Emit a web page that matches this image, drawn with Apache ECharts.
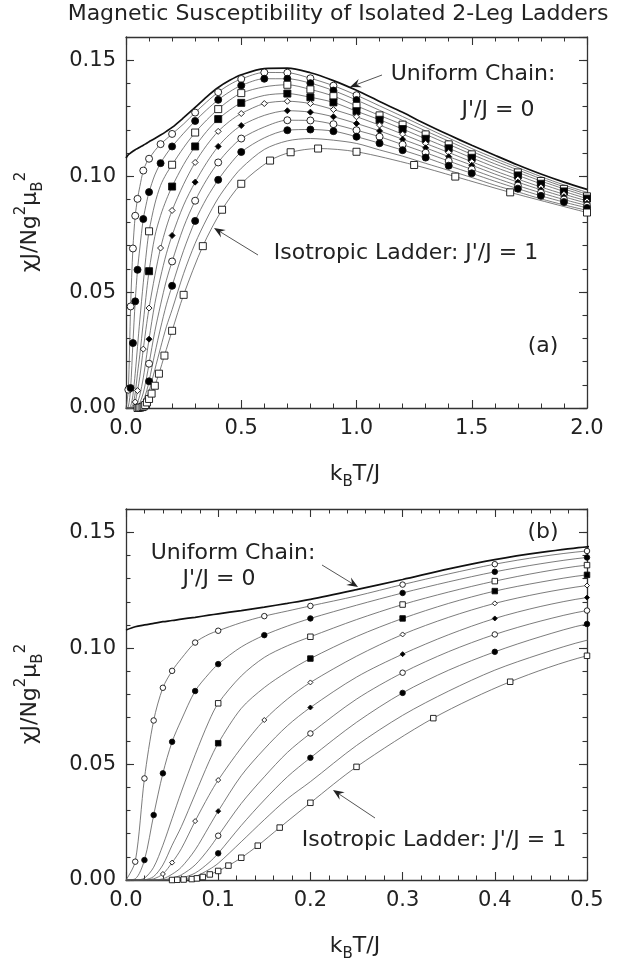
<!DOCTYPE html>
<html><head><meta charset="utf-8">
<script src="https://cdn.jsdelivr.net/npm/echarts@6/dist/echarts.min.js"></script>
<style>html,body{margin:0;padding:0;background:#fff}#c{width:626px;height:969px}</style>
</head><body><div id="c"></div>
<script>
// ---------- DATA ----------
// shared temperature grid kT/J for chain and J'/J = 0.1 ... 0.9
const tempGrid = [0, 0.01, 0.02, 0.03, 0.04, 0.05, 0.06, 0.075, 0.09, 0.1,
  0.125, 0.15, 0.175, 0.2, 0.25, 0.3, 0.35, 0.4, 0.45, 0.5,
  0.6, 0.7, 0.8, 0.9, 1.0, 1.1, 1.2, 1.3, 1.4, 1.5, 1.6, 1.7, 1.8, 1.9, 2.0];
const chainJ0 = [0.1078, 0.1092, 0.1100, 0.1107, 0.1114, 0.1119, 0.1125, 0.1133, 0.1142, 0.1148,
  0.1162, 0.1177, 0.1193, 0.1210, 0.1252, 0.1296, 0.1342, 0.1382, 0.1413, 0.1437,
  0.1464, 0.1466, 0.1446, 0.1412, 0.1370, 0.1322, 0.1275, 0.1225, 0.1178, 0.1133, 0.1090, 0.1048, 0.1009, 0.0974, 0.0943];
const ladder01 = [0, 0.0079, 0.0438, 0.0688, 0.0829, 0.0902, 0.0955, 0.1024, 0.1060, 0.1075,
  0.1110, 0.1138, 0.1160, 0.1182, 0.1225, 0.1274, 0.1320, 0.1362, 0.1395, 0.1419,
  0.1447, 0.1446, 0.1422, 0.1390, 0.1349, 0.1303, 0.1257, 0.1210, 0.1164, 0.1119, 0.1077, 0.1037, 0.0998, 0.0962, 0.0930];
const ladder02 = [0, 0.0005, 0.0086, 0.0280, 0.0460, 0.0596, 0.0690, 0.0815, 0.0890, 0.0931,
  0.1005, 0.1056, 0.1095, 0.1128, 0.1185, 0.1238, 0.1286, 0.1329, 0.1364, 0.1391,
  0.1420, 0.1420, 0.1401, 0.1369, 0.1328, 0.1284, 0.1240, 0.1195, 0.1151, 0.1107, 0.1066, 0.1027, 0.0989, 0.0954, 0.0922];
const ladder03 = [0, 0, 0.0008, 0.0055, 0.0150, 0.0265, 0.0380, 0.0540, 0.0685, 0.0762,
  0.0880, 0.0960, 0.1010, 0.1049, 0.1123, 0.1188, 0.1242, 0.1289, 0.1328, 0.1358,
  0.1385, 0.1394, 0.1374, 0.1345, 0.1303, 0.1262, 0.1222, 0.1180, 0.1137, 0.1094, 0.1053, 0.1016, 0.0979, 0.0945, 0.0913];
const ladder04 = [0, 0, 0.0001, 0.0015, 0.0065, 0.0150, 0.0230, 0.0370, 0.0510, 0.0590,
  0.0740, 0.0830, 0.0898, 0.0955, 0.1050, 0.1128, 0.1193, 0.1246, 0.1285, 0.1316,
  0.1348, 0.1356, 0.1340, 0.1318, 0.1280, 0.1243, 0.1203, 0.1161, 0.1120, 0.1079, 0.1039, 0.1003, 0.0967, 0.0934, 0.0903];
const ladder05 = [0, 0, 0, 0.0005, 0.0026, 0.0075, 0.0135, 0.0254, 0.0365, 0.0431,
  0.0570, 0.0690, 0.0780, 0.0852, 0.0965, 0.1059, 0.1133, 0.1193, 0.1237, 0.1270,
  0.1313, 0.1323, 0.1313, 0.1287, 0.1256, 0.1220, 0.1181, 0.1141, 0.1102, 0.1062, 0.1023, 0.0987, 0.0953, 0.0922, 0.0893];
const ladder06 = [0, 0, 0, 0, 0.0005, 0.0025, 0.0055, 0.0130, 0.0230, 0.0297,
  0.0450, 0.0565, 0.0665, 0.0744, 0.0875, 0.0974, 0.1058, 0.1128, 0.1180, 0.1218,
  0.1262, 0.1282, 0.1276, 0.1256, 0.1227, 0.1195, 0.1159, 0.1122, 0.1084, 0.1047, 0.1009, 0.0974, 0.0941, 0.0911, 0.0883];
const ladder07 = [0, 0, 0, 0, 0.0001, 0.0008, 0.0022, 0.0065, 0.0135, 0.0191,
  0.0330, 0.0445, 0.0550, 0.0632, 0.0780, 0.0894, 0.0985, 0.1059, 0.1117, 0.1162,
  0.1212, 0.1241, 0.1240, 0.1224, 0.1198, 0.1170, 0.1136, 0.1101, 0.1065, 0.1029, 0.0993, 0.0959, 0.0928, 0.0899, 0.0873];
const ladder08 = [0, 0, 0, 0, 0, 0.0002, 0.0008, 0.0030, 0.0075, 0.0115,
  0.0235, 0.0345, 0.0445, 0.0527, 0.0680, 0.0807, 0.0905, 0.0984, 0.1050, 0.1104,
  0.1165, 0.1198, 0.1201, 0.1194, 0.1170, 0.1142, 0.1112, 0.1080, 0.1045, 0.1012, 0.0978, 0.0946, 0.0915, 0.0888, 0.0863];
const ladder09 = [0, 0, 0, 0, 0, 0.0001, 0.0004, 0.0015, 0.0045, 0.0072,
  0.0165, 0.0260, 0.0350, 0.0424, 0.0580, 0.0710, 0.0815, 0.0905, 0.0975, 0.1034,
  0.1115, 0.1152, 0.1162, 0.1155, 0.1141, 0.1113, 0.1086, 0.1055, 0.1025, 0.0994, 0.0961, 0.0932, 0.0902, 0.0876, 0.0852];
// isotropic ladder J'/J = 1 has its own temperature points
const tempLadder = [0, 0.05, 0.0556, 0.0625, 0.0714, 0.0769, 0.0833, 0.0909, 0.1, 0.1111,
  0.125, 0.1429, 0.1667, 0.2, 0.25, 0.3333, 0.4167, 0.5, 0.625, 0.7143, 0.8333, 1.0, 1.25, 1.4286, 1.6667, 2.0];
const ladder10 = [0, 0, 0.0001, 0.0002, 0.0004, 0.0007, 0.0013, 0.0024, 0.0039, 0.0062,
  0.0096, 0.0148, 0.0226, 0.0333, 0.0488, 0.0698, 0.0855, 0.0967, 0.1067, 0.1103, 0.1119, 0.1105, 0.1048, 0.0998, 0.0930, 0.0843];
// temperatures at which each curve carries data markers
const marksLow = [0.01, 0.02, 0.03, 0.04, 0.05, 0.075, 0.1, 0.15, 0.2, 0.3, 0.4, 0.5, 0.6, 0.7, 0.8, 0.9, 1.0];
const marks02 = [0.02, 0.03, 0.04, 0.05, 0.075, 0.1, 0.15, 0.2, 0.3, 0.4, 0.5, 0.6, 0.7, 0.8, 0.9, 1.0];
const marksMid = [0.1, 0.2, 0.3, 0.4, 0.5, 0.7, 0.8, 0.9, 1.0, 1.1, 1.2, 1.3, 1.4, 1.5, 1.7, 1.8, 1.9, 2.0];
const marks05 = [0.04, 0.05, 0.075, 0.1, 0.15, 0.2, 0.3, 0.4, 0.5, 0.6, 0.7, 0.8, 0.9, 1.0, 1.1, 1.2, 1.3, 1.4, 1.5, 1.7, 1.8, 1.9, 2.0];
const marks10 = tempLadder.slice(1);
// tick values
const xTicksA = [0, 0.5, 1.0, 1.5, 2.0];
const xTicksB = [0, 0.1, 0.2, 0.3, 0.4, 0.5];
const yTicks = [0, 0.05, 0.10, 0.15];

// ---------- STYLE ----------
const FONT = 'DejaVu Sans';
const curves = [
  {T: tempGrid, v: chainJ0, chain: true},
  {T: tempGrid, v: ladder01, marks: marksLow, sym: 'circle', fill: '#fff'},
  {T: tempGrid, v: ladder02, marks: marks02, sym: 'circle', fill: '#000'},
  {T: tempGrid, v: ladder03, marks: marksMid, sym: 'rect', fill: '#fff'},
  {T: tempGrid, v: ladder04, marks: marksMid, sym: 'rect', fill: '#000'},
  {T: tempGrid, v: ladder05, marks: marks05, sym: 'diamond', fill: '#fff', small: true},
  {T: tempGrid, v: ladder06, marks: marksMid, sym: 'diamond', fill: '#000', small: true},
  {T: tempGrid, v: ladder07, marks: marksMid, sym: 'circle', fill: '#fff'},
  {T: tempGrid, v: ladder08, marks: marksMid, sym: 'circle', fill: '#000'},
  {T: tempGrid, v: ladder09},
  {T: tempLadder, v: ladder10, marks: marks10, sym: 'rect', fill: '#fff'}
];

function xAx(gi, max, interval, pos, labels) {
  return {type: 'value', gridIndex: gi, position: pos, min: 0, max: max, interval: interval,
    axisLine: {show: true, onZero: false, lineStyle: {color: '#333', width: 1.3}},
    axisTick: {show: true, inside: true, length: 8, lineStyle: {color: '#333', width: 1.1}},
    minorTick: {show: true, splitNumber: 5, length: 4.5, lineStyle: {color: '#333', width: 1}},
    splitLine: {show: false}, minorSplitLine: {show: false},
    axisLabel: {show: labels, margin: 10, fontSize: 21, fontFamily: FONT, color: '#222',
      formatter: v => v.toFixed(1)}};
}
function yAx(gi, pos, labels, minor) {
  return {type: 'value', gridIndex: gi, position: pos, min: 0, max: 0.16, interval: minor ? 0.01 : 0.05,
    axisLine: {show: !minor, onZero: false, lineStyle: {color: '#333', width: 1.3}},
    axisTick: {show: true, inside: true, length: minor ? 4.5 : 8, lineStyle: {color: '#333', width: 1.1}},
    splitLine: {show: false},
    axisLabel: {show: labels, margin: 10, fontSize: 21, fontFamily: FONT, color: '#222',
      showMaxLabel: false,
      formatter: v => yTicks.some(t => Math.abs(t - v) < 1e-9) ? v.toFixed(2) : ''}};
}

const series = [];
[0, 1].forEach(p => {
  const xi = p * 2, yi = p * 4;
  curves.forEach(c => {
    series.push({type: 'line', xAxisIndex: xi, yAxisIndex: yi, smooth: 0.3, showSymbol: false,
      silent: true, z: c.chain ? 4 : 2, clip: true,
      lineStyle: {color: c.chain ? '#111' : '#5a5a5a', width: c.chain ? 1.7 : 0.8},
      data: c.T.map((t, i) => [t, c.v[i]])});
    if (c.marks) {
      const size = c.small ? (p === 0 ? 6 : 5) : (p === 0 ? 7 : 5.5);
      series.push({type: 'scatter', xAxisIndex: xi, yAxisIndex: yi, silent: true, z: 5, clip: true,
        symbol: c.sym, symbolSize: size,
        itemStyle: {color: c.fill, borderColor: '#111', borderWidth: 0.9, opacity: 1},
        data: c.marks.map(t => [t, c.v[c.T.indexOf(t)]])});
    }
  });
});

function arrow(x1, y1, x2, y2) {
  const a = Math.atan2(y2 - y1, x2 - x1), L = 11, W = 4.5, N = 7;
  const bx = x2 - L * Math.cos(a), by = y2 - L * Math.sin(a);
  const nx = x2 - N * Math.cos(a), ny = y2 - N * Math.sin(a);
  const px = -Math.sin(a) * W, py = Math.cos(a) * W;
  return [
    {type: 'line', shape: {x1: x1, y1: y1, x2: nx, y2: ny}, style: {stroke: '#555', lineWidth: 1}},
    {type: 'polygon', shape: {points: [[x2, y2], [bx + px, by + py], [nx, ny], [bx - px, by - py]]}, style: {fill: '#222'}}
  ];
}
function txt(x, y, s, size, rich, rot) {
  const st = {text: s, fontSize: size, fontFamily: FONT, fill: '#222',
    align: 'center', verticalAlign: 'middle', textAlign: 'center', textVerticalAlign: 'middle'};
  if (rich) st.rich = rich;
  return {type: 'text', x: x, y: y, rotation: rot || 0, style: st};
}
const richAxis = {
  m: {fontSize: 22, fontFamily: FONT, fill: '#222', color: '#222', lineHeight: 32, verticalAlign: 'middle'},
  sup: {fontSize: 15, fontFamily: FONT, fill: '#222', color: '#222', lineHeight: 15, verticalAlign: 'top'},
  sub: {fontSize: 15, fontFamily: FONT, fill: '#222', color: '#222', lineHeight: 15, verticalAlign: 'bottom'}
};
const yTitle = '{m|\u03c7J/Ng}{sup|2}{m|\u03bc}{sub|B}{sup|2}';
const xTitle = '{m|k}{sub|B}{m|T/J}';

const graphic = [
  txt(338, 14, 'Magnetic Susceptibility of Isolated 2-Leg Ladders', 22),
  txt(30, 222, yTitle, 22, richAxis, Math.PI / 2),
  txt(30, 694, yTitle, 22, richAxis, Math.PI / 2),
  txt(355, 474, xTitle, 22, richAxis),
  txt(355, 946, xTitle, 22, richAxis),
  txt(473, 74, 'Uniform Chain:', 22),
  txt(498, 110, "J'/J = 0", 22),
  txt(406, 253, "Isotropic Ladder: J'/J = 1", 22),
  txt(543, 346, '(a)', 22),
  txt(543, 532, '(b)', 22),
  txt(233, 553, 'Uniform Chain:', 22),
  txt(219, 579, "J'/J = 0", 22),
  txt(434, 840, "Isotropic Ladder: J'/J = 1", 22)
].concat(arrow(382, 75, 350, 87), arrow(258, 255, 214, 228),
         arrow(322, 565, 358, 587), arrow(375, 818, 333, 790));

const chart = echarts.init(document.getElementById('c'), null, {renderer: 'canvas'});
chart.setOption({
  animation: false,
  backgroundColor: '#fff',
  grid: [{left: 126, top: 37, width: 461, height: 371}, {left: 126, top: 509, width: 461, height: 371}],
  xAxis: [xAx(0, xTicksA[xTicksA.length - 1], xTicksA[1], 'bottom', true), xAx(0, xTicksA[xTicksA.length - 1], xTicksA[1], 'top', false),
          xAx(1, xTicksB[xTicksB.length - 1], xTicksB[1], 'bottom', true), xAx(1, xTicksB[xTicksB.length - 1], xTicksB[1], 'top', false)],
  yAxis: [yAx(0, 'left', true, false), yAx(0, 'right', false, false), yAx(0, 'left', false, true), yAx(0, 'right', false, true),
          yAx(1, 'left', true, false), yAx(1, 'right', false, false), yAx(1, 'left', false, true), yAx(1, 'right', false, true)],
  series: series,
  graphic: graphic
});
</script></body></html>
